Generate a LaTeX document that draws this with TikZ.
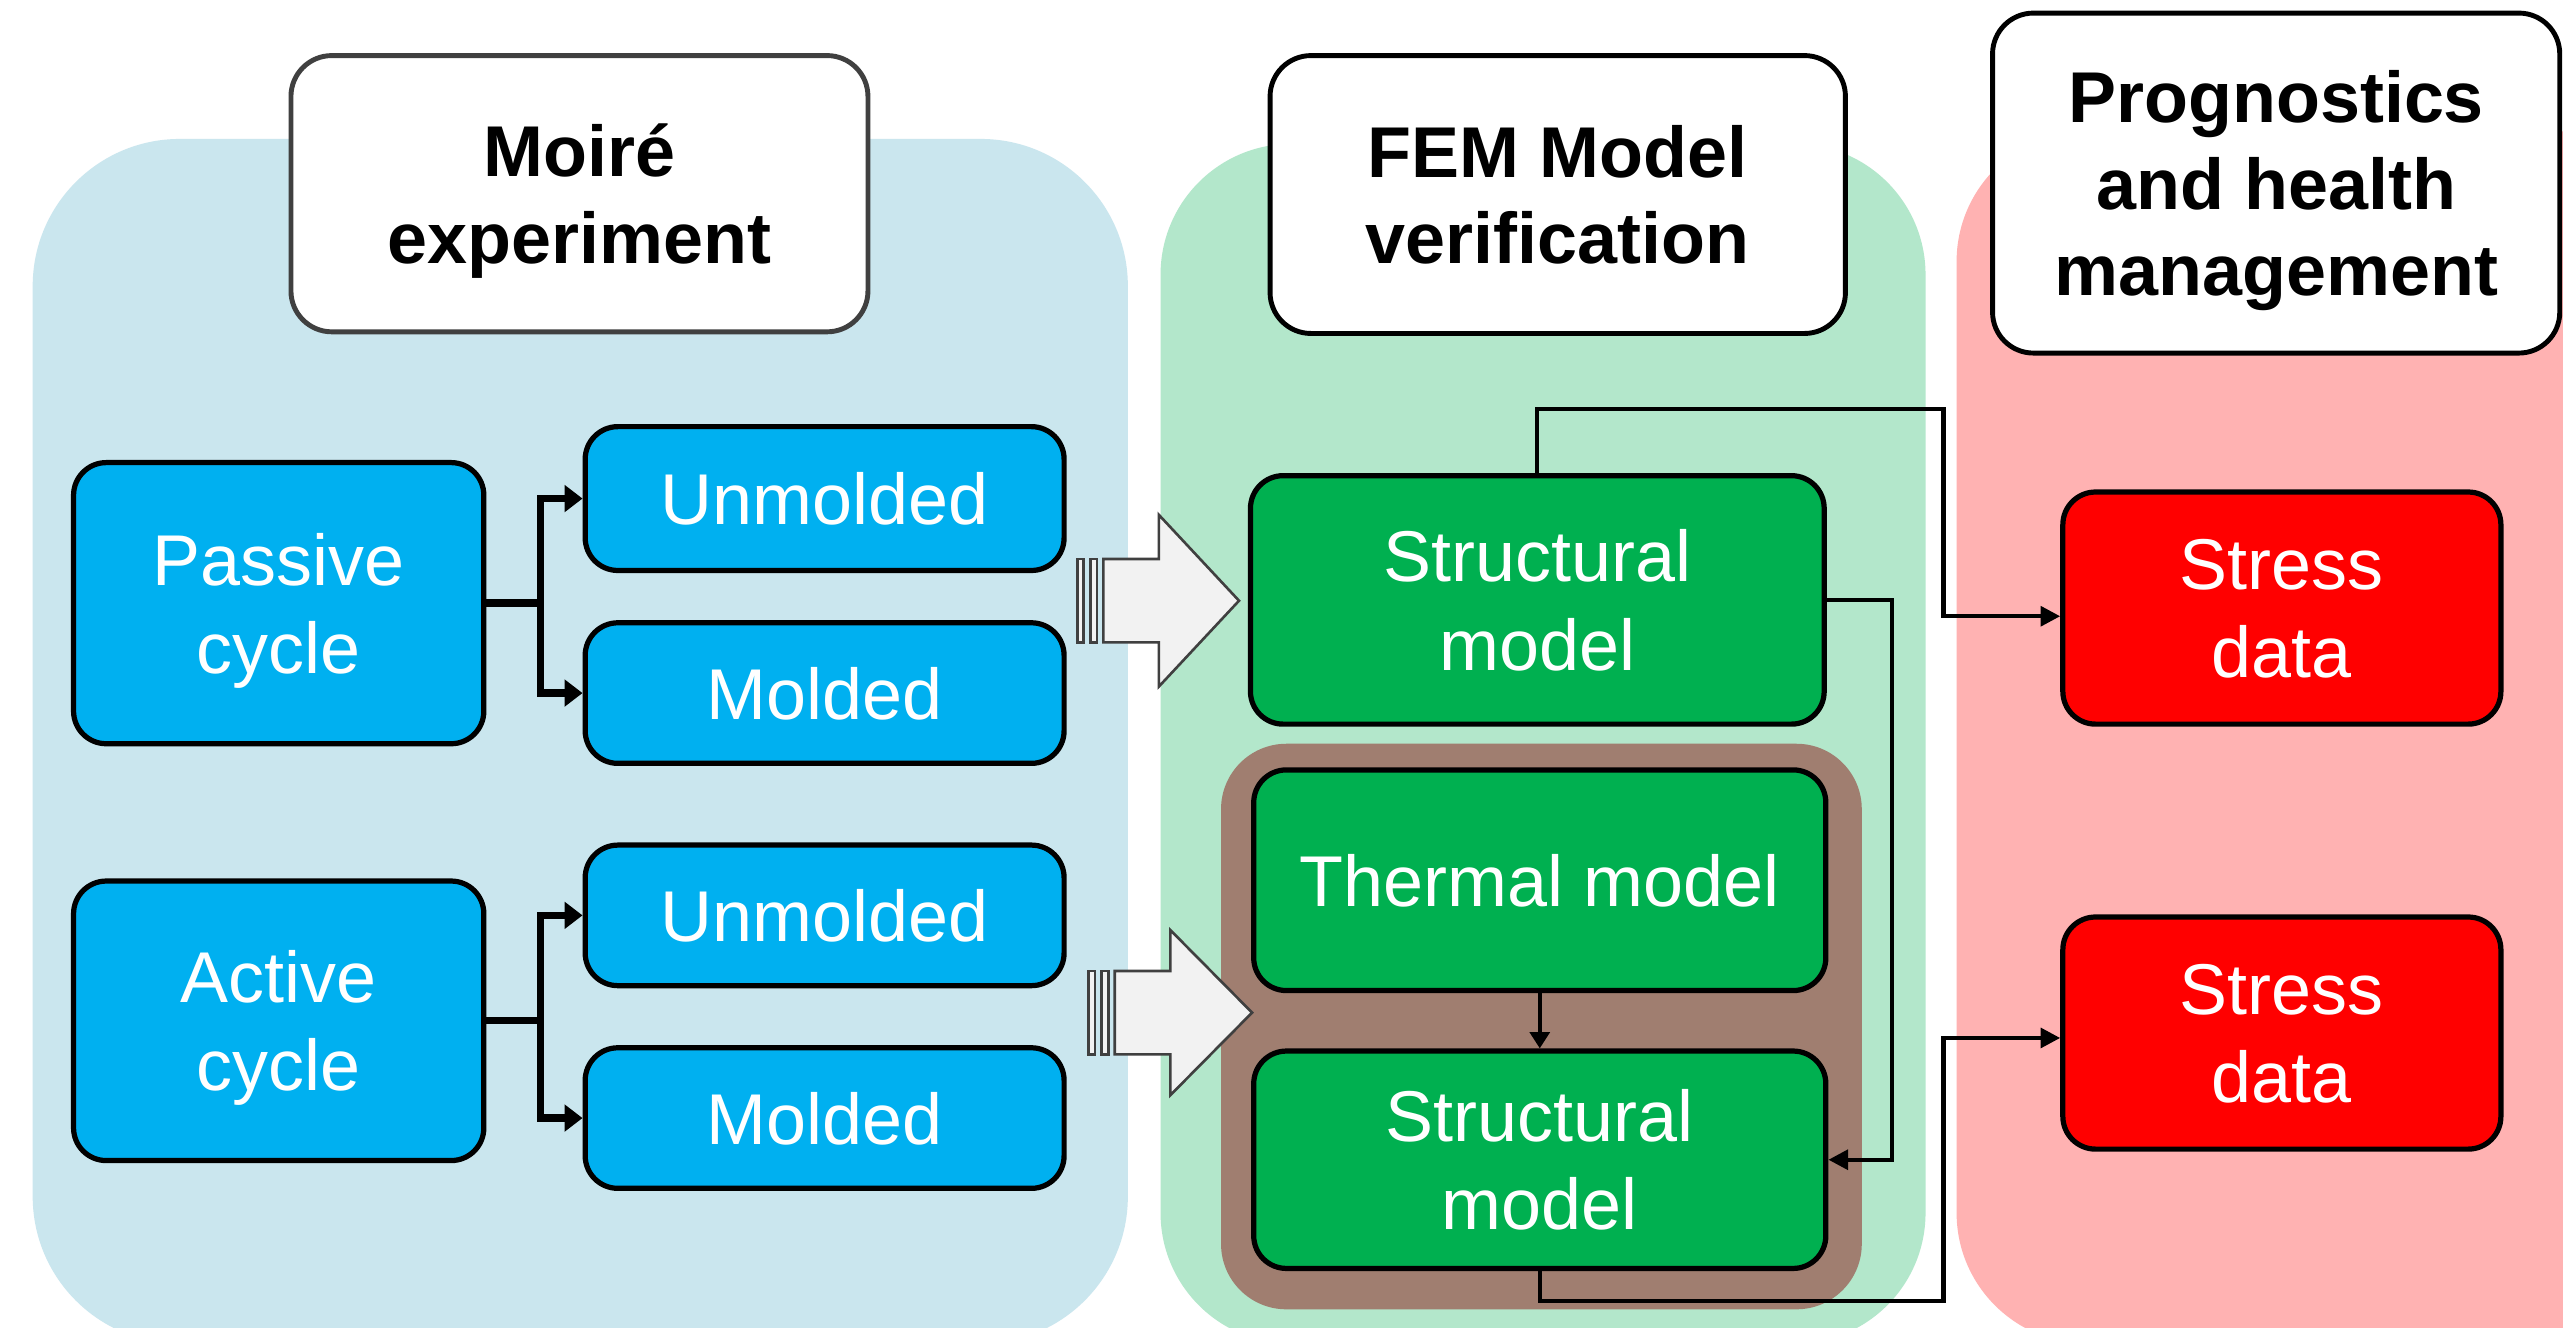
\documentclass[tikz,border=0pt]{standalone}
\usepackage{fontspec}
\setmainfont{Liberation Sans}
\usetikzlibrary{arrows.meta,calc}
\definecolor{panelblue}{RGB}{202,230,238}
\definecolor{panelgreen}{RGB}{179,231,203}
\definecolor{panelpink}{RGB}{255,178,178}
\definecolor{boxblue}{RGB}{0,176,240}
\definecolor{boxgreen}{RGB}{0,176,80}
\definecolor{boxred}{RGB}{255,0,0}
\definecolor{brownbg}{RGB}{160,126,112}
\definecolor{arrowfill}{RGB}{242,242,242}
\definecolor{arrowline}{RGB}{64,64,64}
\begin{document}
\begin{tikzpicture}[x=1pt,y=-1pt,
  boxbase/.style={draw=black, line width=3.2pt, rounded corners=20pt, text=white,
    align=center, inner sep=0pt, text depth=0pt, font=\fontsize{44}{54}\selectfont},
  bluebox/.style={boxbase, fill=boxblue},
  greenbox/.style={boxbase, fill=boxgreen},
  redbox/.style={boxbase, fill=boxred},
  titlebox/.style={draw=black, line width=3pt, fill=white, rounded corners=25pt,
    align=center, inner sep=0pt, text depth=0pt, font=\fontsize{44}{53}\selectfont\bfseries},
  bline/.style={line width=4.5pt},
  btip/.style={{Triangle[length=11pt,width=16pt]}-{Triangle[length=11pt,width=16pt]}},
  cline/.style={line width=2.6pt, -{Triangle[length=12pt,width=12pt]}},
  blockarrow/.style={fill=arrowfill, draw=arrowline, line width=1.6pt, line join=miter}
]
\useasboundingbox (0,0) rectangle (1568,812);
\clip (0,0) rectangle (1568,812);
\fill[white] (0,0) rectangle (1568,812);

% background panels
\fill[panelblue, rounded corners=90pt] (20,85) rectangle (690,822);
\fill[panelgreen, rounded corners=80pt] (710,88) rectangle (1178,822);
\fill[panelpink, rounded corners=80pt] (1197,80) rectangle (1640,822);

% titles
\node[titlebox, draw=arrowline, minimum width=353pt, minimum height=169pt] (t1) at (354.5,118.5) {Moir\smash{é}\\experiment};
\node[titlebox, minimum width=352pt, minimum height=170pt] (t2) at (953,119) {FEM Model\\verification};
\node[titlebox, minimum width=347pt, minimum height=208pt] (t3) at (1392.5,112) {Prognostics\\and health\\management};

% brown group
\fill[brownbg, rounded corners=40pt] (747,455) rectangle (1139,801);

% blue boxes
\node[bluebox, minimum width=251pt, minimum height=172pt] (p1) at (170.5,369) {Passive\\cycle};
\node[bluebox, minimum width=293pt, minimum height=88pt] (u1) at (504.5,305) {Unmolded};
\node[bluebox, minimum width=293pt, minimum height=86pt] (m1) at (504.5,424) {Molded};
\node[bluebox, minimum width=251pt, minimum height=171pt] (p2) at (170.5,624.5) {Active\\cycle};
\node[bluebox, minimum width=293pt, minimum height=86pt] (u2) at (504.5,560) {Unmolded};
\node[bluebox, minimum width=293pt, minimum height=86pt] (m2) at (504.5,684) {Molded};

% green boxes
\node[greenbox, minimum width=351pt, minimum height=152pt] (s1) at (940.5,367) {Structural\\model};
\node[greenbox, minimum width=350pt, minimum height=135pt] (th) at (942,538.5) {Thermal model};
\node[greenbox, minimum width=350pt, minimum height=133pt] (s2) at (942,709.5) {Structural\\model};

% red boxes
\node[redbox, minimum width=268pt, minimum height=142pt] (r1) at (1396,372) {Stress\\data};
\node[redbox, minimum width=268pt, minimum height=142pt] (r2) at (1396,632) {Stress\\data};

% blue connectors
\coordinate (pj1) at ($(p1.east)+(33,0)$);
\draw[bline] (p1.east) -- (pj1);
\draw[bline, btip] (u1.west) -| (pj1) |- (m1.west);
\coordinate (pj2) at ($(p2.east)+(33,0)$);
\draw[bline] (p2.east) -- (pj2);
\draw[bline, btip] (u2.west) -| (pj2) |- (m2.west);

% FEM connectors
\coordinate (k1) at (1189,250);
\draw[cline] (s1.north) |- (k1) |- ($(r1.west)+(0,5)$);
\draw[cline] (s1.east) -- ++(40,0) |- (s2.east);
\draw[line width=2.6pt, -{Triangle[length=10pt,width=12pt]}] (th.south) -- (s2.north);
\coordinate (k3) at (1189,796);
\draw[cline] (s2.south) |- (k3) |- ($(r2.west)+(0,3)$);

% striped block arrows
\filldraw[blockarrow] (659,342) rectangle (663,393);
\filldraw[blockarrow] (667,342) rectangle (671,393);
\filldraw[blockarrow] (675,342) -- (709,342) -- (709,315) -- (758,367.5) -- (709,420) -- (709,393) -- (675,393) -- cycle;

\filldraw[blockarrow] (666,594) rectangle (670,645);
\filldraw[blockarrow] (674,594) rectangle (678,645);
\filldraw[blockarrow] (682,594) -- (716,594) -- (716,569) -- (766,619.5) -- (716,670) -- (716,645) -- (682,645) -- cycle;
\end{tikzpicture}
\end{document}
